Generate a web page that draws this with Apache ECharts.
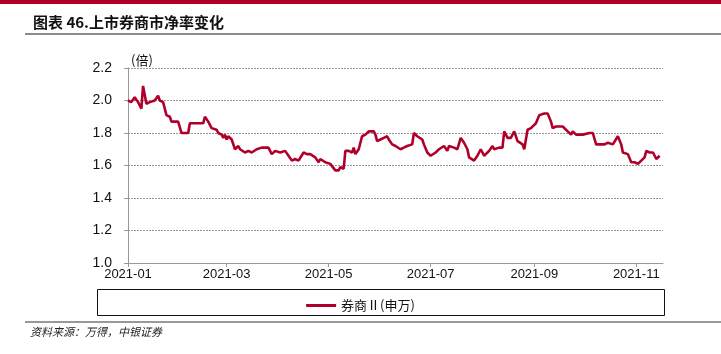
<!DOCTYPE html>
<html>
<head>
<meta charset="utf-8">
<script src="https://cdn.jsdelivr.net/npm/echarts@6/dist/echarts.min.js"></script>
<style>
  html, body { margin: 0; padding: 0; background: #fff; }
  #chart { width: 721px; height: 354px; }
</style>
</head>
<body>
<div id="chart"></div>
<script>
// 券商II(申万) 市净率 (倍)
const dates = [
  '2021-01-01','2021-01-03','2021-01-05','2021-01-07','2021-01-09','2021-01-10','2021-01-12','2021-01-14',
  '2021-01-17','2021-01-19','2021-01-20','2021-01-22','2021-01-24','2021-01-26','2021-01-27','2021-01-29',
  '2021-01-31','2021-02-02','2021-02-04','2021-02-06','2021-02-07','2021-02-15','2021-02-16','2021-02-18',
  '2021-02-20','2021-02-23','2021-02-24','2021-02-26','2021-02-27','2021-02-28','2021-03-01','2021-03-02',
  '2021-03-04','2021-03-06','2021-03-08','2021-03-09','2021-03-12','2021-03-14','2021-03-16','2021-03-19',
  '2021-03-22','2021-03-26','2021-03-28','2021-03-30','2021-04-02','2021-04-05','2021-04-07','2021-04-09',
  '2021-04-11','2021-04-13','2021-04-16','2021-04-18','2021-04-20','2021-04-23','2021-04-25','2021-04-26',
  '2021-04-29','2021-05-02','2021-05-03','2021-05-05','2021-05-07','2021-05-08','2021-05-10','2021-05-11',
  '2021-05-13','2021-05-15','2021-05-16','2021-05-17','2021-05-19','2021-05-21','2021-05-23','2021-05-24',
  '2021-05-25','2021-05-28','2021-05-29','2021-05-30','2021-06-01','2021-06-03','2021-06-05','2021-06-06',
  '2021-06-08','2021-06-10','2021-06-13','2021-06-15','2021-06-17','2021-06-20','2021-06-21','2021-06-23',
  '2021-06-26','2021-06-27','2021-06-29','2021-07-01','2021-07-04','2021-07-06','2021-07-09','2021-07-11',
  '2021-07-12','2021-07-15','2021-07-17','2021-07-19','2021-07-21','2021-07-23','2021-07-24','2021-07-25',
  '2021-07-27','2021-07-29','2021-07-31','2021-08-02','2021-08-05','2021-08-07','2021-08-08','2021-08-11',
  '2021-08-13','2021-08-14','2021-08-16','2021-08-18','2021-08-20','2021-08-22','2021-08-25','2021-08-26',
  '2021-08-28','2021-08-30','2021-09-02','2021-09-04','2021-09-05','2021-09-07','2021-09-09','2021-09-11',
  '2021-09-12','2021-09-14','2021-09-16','2021-09-18','2021-09-19','2021-09-21','2021-09-23','2021-09-24',
  '2021-09-26','2021-09-30','2021-10-04','2021-10-06','2021-10-08','2021-10-13','2021-10-15','2021-10-16',
  '2021-10-18','2021-10-21','2021-10-23','2021-10-24','2021-10-27','2021-10-28','2021-10-29','2021-10-31',
  '2021-11-02','2021-11-04','2021-11-06','2021-11-07','2021-11-09','2021-11-11','2021-11-13','2021-11-14',
  '2021-11-15'
];
const pbValues = [
  2.00,1.99,2.02,1.99,1.95,2.09,1.98,1.99,
  2.00,2.03,2.00,1.99,1.91,1.90,1.87,1.87,
  1.87,1.80,1.80,1.80,1.86,1.86,1.90,1.87,
  1.83,1.82,1.80,1.79,1.77,1.79,1.76,1.78,
  1.76,1.70,1.72,1.70,1.68,1.69,1.68,1.70,
  1.71,1.71,1.67,1.69,1.68,1.69,1.66,1.63,
  1.64,1.63,1.68,1.67,1.67,1.65,1.62,1.64,
  1.62,1.61,1.60,1.57,1.57,1.59,1.58,1.69,
  1.69,1.68,1.71,1.67,1.70,1.78,1.79,1.80,
  1.81,1.81,1.79,1.75,1.76,1.77,1.78,1.76,
  1.73,1.72,1.70,1.71,1.72,1.73,1.80,1.78,
  1.76,1.73,1.68,1.66,1.68,1.70,1.72,1.69,
  1.72,1.71,1.70,1.77,1.74,1.70,1.65,1.66,
  1.63,1.66,1.70,1.66,1.69,1.72,1.70,1.71,
  1.71,1.81,1.77,1.77,1.81,1.75,1.73,1.70,
  1.82,1.83,1.86,1.91,1.90,1.92,1.92,1.87,
  1.83,1.84,1.84,1.84,1.85,1.81,1.79,1.81,
  1.79,1.79,1.80,1.80,1.73,1.73,1.74,1.73,
  1.73,1.78,1.73,1.68,1.67,1.66,1.62,1.62,
  1.61,1.63,1.65,1.69,1.68,1.68,1.64,1.63,
  1.66
];
const xTickDates = ['2021-01-01','2021-03-01','2021-05-01','2021-07-01','2021-09-01','2021-11-01'];
const xRange = ['2021-01-01', '2021-11-17'];
const seriesName = '券商Ⅱ(申万)';

const toTime = s => new Date(s + 'T00:00:00').getTime();
const lineData = dates.map((d, i) => [toTime(d), pbValues[i]]);
const tickTimes = xTickDates.map(toTime);

const chart = echarts.init(document.getElementById('chart'), null, { renderer: 'canvas' });
const red = '#b0002a';
const axisFont = 'Arial, "Liberation Sans", sans-serif';

chart.setOption({
  animation: false,
  title: {
    text: '图表 46.上市券商市净率变化',
    left: 28,
    top: 10,
    textStyle: { fontSize: 15, fontWeight: 'bold', color: '#111', fontFamily: '"Noto Sans CJK SC", sans-serif' }
  },
  graphic: [
    { type: 'rect', left: 0, top: 0, shape: { width: 721, height: 4 }, style: { fill: red } },
    { type: 'line', shape: { x1: 25, y1: 34, x2: 721, y2: 34 }, style: { stroke: '#666', lineWidth: 1.5 } },
    { type: 'rect', shape: { x: 97.5, y: 289.5, width: 567, height: 26 }, style: { fill: 'none', stroke: '#111', lineWidth: 1 } },
    { type: 'line', shape: { x1: 25, y1: 322, x2: 721, y2: 322 }, style: { stroke: '#777', lineWidth: 1.5 } },
    {
      type: 'text', left: 30, top: 326,
      style: { text: '资料来源：万得，中银证券', fill: '#222', fontSize: 11, fontStyle: 'italic', fontFamily: '"Noto Sans CJK SC", sans-serif' }
    }
  ],
  legend: {
    data: [seriesName],
    top: 294,
    left: 'center',
    icon: 'rect',
    itemWidth: 30,
    itemHeight: 3,
    itemGap: 4,
    textStyle: { fontSize: 13, color: '#111', fontFamily: '"Noto Sans CJK SC", sans-serif' }
  },
  grid: { left: 128, top: 68, width: 535, height: 195, containLabel: false },
  xAxis: {
    type: 'value',
    min: toTime(xRange[0]),
    max: toTime(xRange[1]),
    axisLine: { show: true, lineStyle: { color: '#999', width: 1 } },
    axisTick: { show: true, customValues: tickTimes, length: 4, lineStyle: { color: '#999' } },
    axisLabel: {
      customValues: tickTimes,
      formatter: v => echarts.time.format(v, '{yyyy}-{MM}', false),
      color: '#111', fontSize: 13, fontFamily: axisFont, margin: 5,
      hideOverlap: false
    },
    splitLine: { show: false }
  },
  yAxis: {
    type: 'value',
    min: 1.0,
    max: 2.2,
    interval: 0.2,
    name: '(倍)',
    nameLocation: 'end',
    nameGap: 1,
    nameTextStyle: { align: 'left', color: '#111', fontSize: 13, fontFamily: '"Noto Sans CJK SC", sans-serif', padding: [0, 0, 0, 3] },
    axisLine: { show: true, lineStyle: { color: '#999', width: 1 } },
    axisTick: { show: true, length: 4, lineStyle: { color: '#999' } },
    axisLabel: { formatter: v => v.toFixed(1), color: '#111', fontSize: 14, fontFamily: axisFont, margin: 16 },
    splitLine: { show: true, lineStyle: { color: '#999', type: [2, 1], width: 1 } }
  },
  series: [{
    name: seriesName,
    type: 'line',
    data: lineData,
    showSymbol: false,
    symbol: 'none',
    lineStyle: { color: red, width: 2.6 },
    itemStyle: { color: red }
  }]
});
</script>
</body>
</html>
